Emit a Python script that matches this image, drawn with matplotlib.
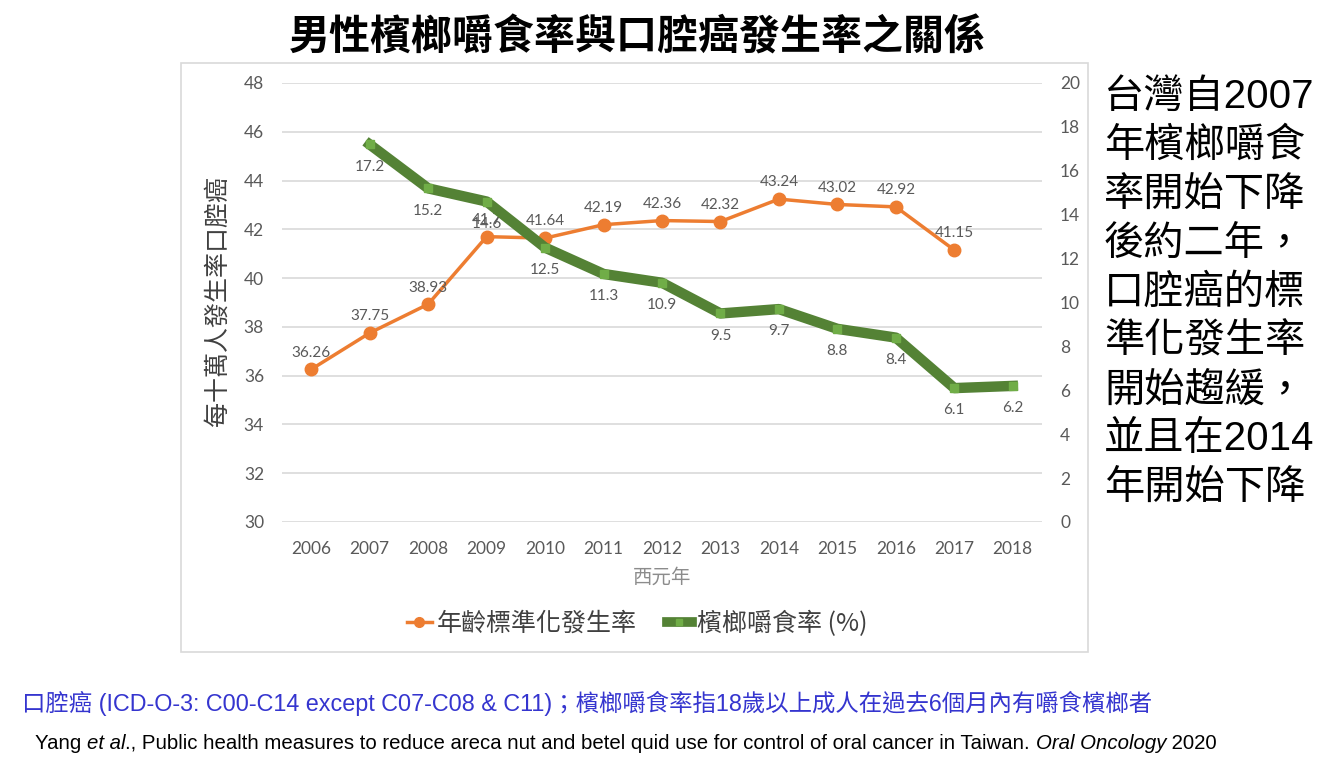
import matplotlib
matplotlib.use('Agg')
import matplotlib.pyplot as plt
from matplotlib.lines import Line2D
from matplotlib.patches import Rectangle

# Data
years = [2006, 2007, 2008, 2009, 2010, 2011, 2012, 2013, 2014, 2015, 2016, 2017, 2018]
inc_years = years[:12]
incidence = [36.26, 37.75, 38.93, 41.7, 41.64, 42.19, 42.36, 42.32, 43.24, 43.02, 42.92, 41.15]
chew_years = years[1:]
chewing = [17.2, 15.2, 14.6, 12.5, 11.3, 10.9, 9.5, 9.7, 8.8, 8.4, 6.1, 6.2]
left_ticks = list(range(30, 49, 2))
right_ticks = list(range(0, 21, 2))

title = '男性檳榔嚼食率與口腔癌發生率之關係'
ylabel = '每十萬人發生率口腔癌'
xlabel = '西元年'
legend_labels = ['年齡標準化發生率', '檳榔嚼食率 (%)']
side_lines = ['台灣自2007', '年檳榔嚼食', '率開始下降', '後約二年，', '口腔癌的標',
              '準化發生率', '開始趨緩，', '並且在2014', '年開始下降']
note1 = '口腔癌 (ICD-O-3: C00-C14 except C07-C08 & C11)；檳榔嚼食率指18歲以上成人在過去6個月內有嚼食檳榔者'
ref_parts = [('Yang ', 'normal'), ('et al', 'italic'), ('., Public health measures to reduce areca nut and betel quid use for control of oral cancer in Taiwan. ', 'normal'),
             ('Oral Oncology', 'italic'), (' 2020', 'normal')]

CJK = ['Noto Sans CJK TC', 'DejaVu Sans']
NUM = ['Lato', 'Noto Sans CJK TC']
ARIAL = ['Liberation Sans', 'Noto Sans CJK TC']
ORANGE = '#ED7D31'
GREEN = '#548235'
GREEN_L = '#70AD47'
GRAY = '#595959'

W, H = 1339, 772
fig = plt.figure(figsize=(W / 100, H / 100), dpi=100)
fig.patch.set_facecolor('white')

# chart frame
fig.add_artist(Rectangle((181 / W, 1 - 652 / H), (1088 - 181) / W, (652 - 63) / H,
                         transform=fig.transFigure, fill=False, edgecolor='#D9D9D9', lw=1.2))

ax = fig.add_axes([282 / W, 1 - 522 / H, (1042 - 282) / W, (522 - 83) / H])
ax2 = ax.twinx()

ax.set_xlim(2005.5, 2018.5)
ax.set_ylim(30, 48)
ax2.set_ylim(0, 20)
ax.set_yticks(left_ticks)
ax2.set_yticks(right_ticks)
ax.set_xticks(years)
ax.grid(axis='y', color='#D9D9D9', lw=1.2)
ax.set_axisbelow(True)
for a in (ax, ax2):
    for s in a.spines.values():
        s.set_visible(False)
    a.tick_params(length=0, labelsize=12.5, labelcolor=GRAY)
    for lab in a.get_yticklabels() + a.get_xticklabels():
        lab.set_family(NUM)
ax.tick_params(axis='y', pad=13)
ax2.tick_params(axis='y', pad=13)
ax.tick_params(axis='x', pad=14)

ax.plot(inc_years, incidence, color=ORANGE, lw=2.5, marker='o', ms=9, zorder=3)
for x, y in zip(inc_years, incidence):
    ax.annotate(f'{y:g}', (x, y), xytext=(0, 12), textcoords='offset points',
                ha='center', va='center', fontsize=11, color=GRAY, family=NUM)

ax2.plot(chew_years, chewing, color=GREEN, lw=7.5, solid_joinstyle='round',
         marker='s', ms=6, mfc=GREEN_L, mec=GREEN_L, zorder=4)
for x, y in zip(chew_years, chewing):
    ax2.annotate(f'{y:g}', (x, y), xytext=(0, -16), textcoords='offset points',
                 ha='center', va='center', fontsize=11, color=GRAY, family=NUM)

fig.text(218 / W, 1 - 301 / H, ylabel, rotation=90, ha='center', va='center',
         fontsize=18, color='#404040', family=CJK)
fig.text(662 / W, 1 - 577 / H, xlabel, ha='center', va='center',
         fontsize=14, color='#8C8C8C', family=CJK)

handles = [Line2D([], [], color=ORANGE, lw=2.5, marker='o', ms=7),
           Line2D([], [], color=GREEN, lw=7, marker='s', ms=5, mfc=GREEN_L, mec=GREEN_L)]
fig.legend(handles, legend_labels, loc='center', bbox_to_anchor=(637 / W, 1 - 624 / H),
           ncol=2, frameon=False, prop={'family': CJK, 'size': 18}, labelcolor='#404040',
           handlelength=1.0, handletextpad=0.2, columnspacing=1.2)

fig.text(637 / W, 1 - 38 / H, title, ha='center', va='center', fontsize=29.5,
         fontweight='bold', color='black', family=CJK)

for i, line in enumerate(side_lines):
    fig.text(1104 / W, 1 - (97 + i * 48.9) / H, line, ha='left', va='center',
             fontsize=29, color='black', family=['Liberation Sans', 'Noto Sans CJK TC'])

fig.text(22 / W, 1 - 703 / H, note1, ha='left', va='center', fontsize=16.85,
         color='#3535CF', family=ARIAL)

# reference line with italic parts
fig.canvas.draw()
r = fig.canvas.get_renderer()
x0 = 35 / W
for txt, style in ref_parts:
    t = fig.text(x0, 1 - 749 / H, txt, ha='left', va='baseline', fontsize=14.7,
                 color='black', family=ARIAL, style=style)
    x0 += t.get_window_extent(r).width / W

fig.savefig('out.png', dpi=100)
